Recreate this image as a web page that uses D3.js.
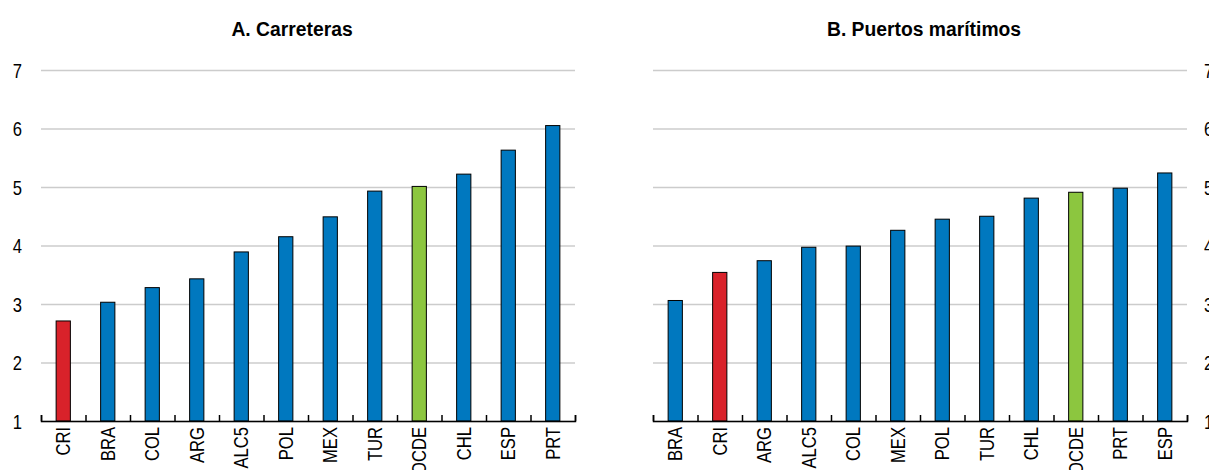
<!DOCTYPE html>
<html>
<head>
<meta charset="utf-8">
<script src="https://d3js.org/d3.v7.min.js"></script>
<style>
  body { margin: 0; background: #ffffff; }
  text { font-family: "Liberation Sans", Arial, sans-serif; fill: #000000; }
  .grid line { stroke: #cccccc; stroke-width: 1.5px; }
  .grid path { stroke-width: 0; }
  .title { font-size: 21px; font-weight: 700; }
</style>
</head>
<body>
<div id="chart"></div>
<script>
  // data
  const roadsCategories = ["CRI", "BRA", "COL", "ARG", "ALC5", "POL", "MEX", "TUR", "OCDE", "CHL", "ESP", "PRT"];
  const roadsValues = [2.71, 3.03, 3.28, 3.43, 3.89, 4.15, 4.49, 4.93, 5.01, 5.22, 5.63, 6.05];

  const portsCategories = ["BRA", "CRI", "ARG", "ALC5", "COL", "MEX", "POL", "TUR", "CHL", "OCDE", "PRT", "ESP"];
  const portsValues = [3.06, 3.54, 3.74, 3.97, 3.99, 4.26, 4.45, 4.50, 4.81, 4.91, 4.98, 5.24];

  const yTicks = [1, 2, 3, 4, 5, 6, 7];

  const blue = "#0078bf", red = "#d9222a", green = "#8cc63f";
  const barColor = c => c === "CRI" ? red : (c === "OCDE" ? green : blue);

  const W = 1209, H = 470;
  const plotTop = 70, plotBottom = 421;
  const squeeze = 0.83; // condensed look of the original font

  const svg = d3.select("#chart").append("svg")
    .attr("width", W).attr("height", H);

  const y = d3.scaleLinear().domain([1, 7]).range([plotBottom, plotTop]);

  function panel(cats, vals, x0, x1, title, titleX, side) {
    const g = svg.append("g");
    const x = d3.scaleBand().domain(cats).range([x0, x1]).paddingInner(0.68).paddingOuter(0.34);
    const xb = d3.scaleLinear().domain([0, cats.length]).range([x0, x1]);

    // grid + y labels
    const ax = side === "left" ? d3.axisLeft(y) : d3.axisRight(y);
    const grid = g.append("g")
      .attr("class", "grid")
      .attr("transform", `translate(${side === "left" ? x0 : x1},0)`)
      .call(ax.tickValues(yTicks).tickFormat(d3.format("d")).tickSize(-(x1 - x0)).tickPadding(0));
    grid.selectAll("text")
      .attr("x", 0)
      .attr("dy", "0.36em")
      .attr("text-anchor", side === "left" ? "end" : "start")
      .attr("transform", `translate(${side === "left" ? -19 : 17},0) scale(${squeeze},1)`)
      .style("font-size", "20px");

    // bars
    g.selectAll("rect.bar")
      .data(cats.map((c, i) => ({c, v: vals[i]})))
      .join("rect")
      .attr("class", "bar")
      .attr("x", d => x(d.c))
      .attr("width", x.bandwidth())
      .attr("y", d => y(d.v))
      .attr("height", d => y(1) - y(d.v))
      .attr("fill", d => barColor(d.c))
      .attr("stroke", "#000000")
      .attr("stroke-width", 1);

    // baseline with upward ticks at category boundaries
    g.append("g")
      .attr("transform", `translate(0,${plotBottom})`)
      .call(d3.axisBottom(xb).tickValues(d3.range(cats.length + 1)).tickSize(-6).tickFormat(""))
      .call(a => a.selectAll("path, line").attr("stroke", "#000000").attr("stroke-width", 1.5));

    // category labels
    g.append("g")
      .attr("transform", `translate(0,${plotBottom})`)
      .call(d3.axisBottom(x).tickSize(0))
      .call(a => a.select(".domain").remove())
      .selectAll("text")
      .attr("x", 0).attr("y", 0)
      .attr("dy", "0.36em")
      .attr("text-anchor", "end")
      .attr("transform", `translate(0,6) rotate(-90) scale(${squeeze},1)`)
      .style("font-size", "20px");

    svg.append("text")
      .attr("class", "title")
      .attr("text-anchor", "middle")
      .attr("transform", `translate(${titleX},36) scale(0.92,1)`)
      .text(title);
  }

  panel(roadsCategories, roadsValues, 41, 575, "A. Carreteras", 292, "left");
  panel(portsCategories, portsValues, 653, 1187, "B. Puertos marítimos", 924, "right");
</script>
</body>
</html>
